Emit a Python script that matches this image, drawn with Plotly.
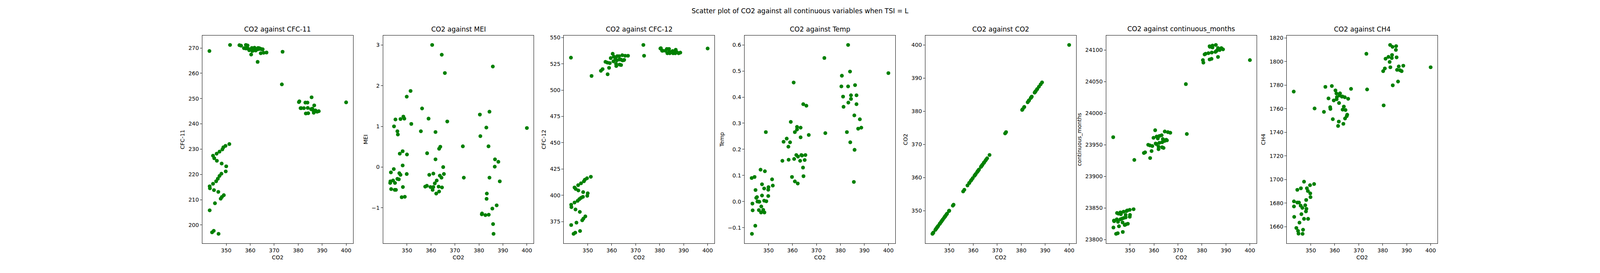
import plotly.graph_objects as go

# CO2 against CFC-11
cfc11_co2 = [343.0, 351.6, 355.5, 356.2, 357.4, 358.2, 358.2, 358.9, 359.2, 359.6,
             360.4, 360.7, 360.9, 361.5, 361.8, 362.0, 362.3, 363.1, 363.2, 363.3,
             363.8, 364.0, 364.4, 364.5, 365.0, 365.2, 365.6, 366.8, 373.5, 373.2,
             380.3, 380.5, 381.0, 381.3, 382.4, 383.0, 383.2, 383.9, 384.0, 384.2,
             385.4, 385.6, 385.9, 386.2, 386.5, 386.7, 387.2, 387.9, 388.6, 400.0,
             351.3, 349.7, 348.8, 348.4, 347.2, 346.0, 344.5, 345.0, 346.1, 348.1,
             350.0, 349.8, 348.0, 347.2, 346.5, 345.8, 344.5, 343.1, 343.2, 344.9,
             346.7, 349.0, 348.2, 347.7, 345.3, 343.1, 344.8, 344.1, 346.8]
cfc11 = [268.8, 271.2, 271.1, 270.9, 269.9, 269.8, 271.2, 271.0, 269.7, 269.1,
         267.4, 270.0, 268.8, 269.1, 270.1, 269.7, 269.0, 264.5, 269.5, 270.0,
         269.9, 269.6, 267.9, 269.6, 269.4, 269.5, 268.1, 268.2, 268.5, 255.6,
         248.6, 248.9, 246.2, 246.2, 246.2, 248.4, 244.1, 248.4, 246.3, 244.2,
         245.8, 250.5, 246.0, 245.4, 244.4, 247.3, 245.3, 244.8, 245.0, 248.5,
         232.0, 231.3, 230.7, 229.9, 229.0, 228.2, 227.4, 226.4, 225.4, 224.3,
         223.2, 221.2, 220.3, 219.4, 218.3, 217.3, 216.3, 215.3, 214.5, 213.8,
         213.1, 211.8, 211.1, 210.4, 208.6, 205.8, 197.7, 197.1, 196.5]

# CO2 against MEI
mei_co2 = [360.5, 364.5, 365.8, 385.8, 351.5, 349.9, 356.3, 384.4, 380.4, 345.2,
           347.3, 348.5, 348.9, 359.0, 366.8, 351.8, 344.6, 383.1, 400.0, 346.0,
           346.2, 355.8, 361.9, 380.6, 373.3, 384.0, 363.9, 363.4, 347.0, 348.2,
           350.0, 358.4, 361.9, 386.7, 388.1, 386.6, 365.1, 348.2, 343.3, 344.5,
           346.8, 347.3, 349.9, 359.3, 361.0, 363.7, 365.4, 364.4, 373.7, 384.4,
           362.4, 388.7, 344.2, 343.1, 343.0, 346.0, 346.6, 345.0, 361.6, 343.4,
           344.9, 345.4, 348.3, 357.6, 358.3, 359.8, 361.0, 360.7, 363.2, 364.6,
           363.4, 362.2, 383.3, 383.2, 347.8, 349.1, 387.4, 385.6, 381.2, 381.3,
           382.7, 384.1, 385.9, 386.1]
mei = [3.00, 2.76, 2.31, 2.47, 1.87, 1.73, 1.44, 1.36, 1.29, 1.17,
       1.18, 1.24, 1.19, 1.19, 1.12, 1.06, 1.00, 0.97, 0.96, 0.88,
       0.80, 0.88, 0.86, 0.76, 0.51, 0.51, 0.50, 0.45, 0.33, 0.39,
       0.31, 0.34, 0.19, 0.19, 0.13, 0.01, 0.00, 0.04, -0.13, -0.05,
       -0.15, -0.19, -0.17, -0.19, -0.16, -0.21, -0.17, -0.26, -0.26, -0.26,
       -0.33, -0.35, -0.33, -0.35, -0.39, -0.29, -0.30, -0.39, -0.40, -0.54,
       -0.56, -0.56, -0.49, -0.48, -0.46, -0.49, -0.49, -0.56, -0.48, -0.50,
       -0.60, -0.65, -0.65, -0.78, -0.74, -0.73, -0.94, -1.02, -1.16, -1.14,
       -1.18, -1.17, -1.40, -1.64]

# CO2 against CFC-12
cfc12_co2 = [343.0, 351.6, 355.5, 356.2, 357.4, 358.2, 358.3, 358.9, 359.2, 359.6,
             360.4, 360.7, 360.9, 361.5, 361.8, 361.9, 362.1, 362.3, 363.1, 363.2,
             363.3, 363.8, 363.9, 364.4, 364.5, 365.0, 365.2, 365.6, 366.8, 373.2,
             373.5,
             380.3, 380.5, 381.0, 381.3, 382.4, 383.0, 383.2, 383.9, 384.0, 384.2,
             385.4, 385.6, 385.9, 386.2, 386.5, 386.7, 387.2, 387.9, 388.6, 400.0,
             351.3, 349.7, 348.8, 348.4, 347.2, 346.0, 344.5, 345.0, 346.1, 348.1,
             350.0, 349.8, 348.0, 347.2, 346.5, 345.8, 344.5, 343.1, 343.2, 344.9,
             346.7, 349.0, 348.2, 347.7, 345.3, 343.1, 344.8, 344.1, 346.8]
cfc12 = [530.9, 513.5, 518.4, 520.0, 526.9, 526.2, 515.1, 521.2, 525.7, 530.5,
         534.6, 527.4, 531.9, 529.9, 525.0, 522.9, 528.3, 532.3, 532.3, 529.1,
         524.3, 529.1, 523.9, 533.2, 528.3, 528.5, 528.8, 532.7, 532.7, 543.0,
         532.7,
         539.6, 539.9, 537.5, 537.5, 537.5, 539.2, 535.1, 539.2, 537.0, 535.1,
         537.2, 535.1, 536.5, 536.1, 535.1, 538.4, 536.1, 535.1, 535.7, 539.6,
         417.6, 416.2, 414.8, 413.3, 411.4, 409.6, 407.4, 406.0, 404.6, 403.0,
         401.9, 399.5, 398.5, 397.5, 396.3, 394.7, 393.1, 391.0, 388.7, 386.5,
         384.2, 379.9, 377.8, 376.2, 374.0, 371.7, 364.4, 363.3, 366.0]

# CO2 against Temp
temp_co2 = [383.2, 373.3, 384.0, 380.6, 400.0, 360.5, 380.4, 383.2, 386.1, 381.1,
            384.4, 386.7, 384.4, 383.3, 381.3, 386.7, 364.5, 365.8, 385.8, 388.1,
            359.3, 361.9, 361.9, 363.4, 388.7, 387.4, 348.9, 361.0, 382.7, 373.7,
            366.8, 363.4, 357.6, 356.3, 359.0, 384.1, 358.3, 385.9, 361.6, 363.7,
            364.0, 365.4, 362.3, 360.7, 358.4, 355.8, 363.2, 365.1, 364.4, 364.6,
            359.8, 361.0, 362.2, 385.6,
            346.7, 348.5, 344.2, 343.0, 351.5, 347.3, 351.8, 350.0, 348.2, 349.9,
            344.6, 347.3, 349.9, 345.2, 344.9, 345.4, 346.0, 346.2, 348.2, 349.1,
            343.3, 347.0, 343.4, 346.0, 347.8, 346.9, 348.3, 344.5, 343.1]
temp = [0.600, 0.550, 0.498, 0.482, 0.492, 0.456, 0.441, 0.441, 0.446, 0.402,
        0.407, 0.407, 0.393, 0.379, 0.363, 0.373, 0.373, 0.367, 0.330, 0.315,
        0.305, 0.286, 0.276, 0.283, 0.283, 0.279, 0.266, 0.266, 0.266, 0.262,
        0.255, 0.246, 0.241, 0.229, 0.227, 0.227, 0.210, 0.198, 0.178, 0.178,
        0.176, 0.178, 0.172, 0.163, 0.160, 0.156, 0.156, 0.159, 0.130, 0.097,
        0.094, 0.077, 0.069, 0.075,
        0.122, 0.116, 0.094, 0.090, 0.085, 0.066, 0.061, 0.055, 0.050, 0.045,
        0.044, 0.023, 0.021, 0.017, 0.014, 0.000, -0.001, -0.001, 0.003, 0.001,
        -0.008, -0.019, -0.034, -0.033, -0.032, -0.042, -0.042, -0.093, -0.124]

# CO2 against continuous_months
months_co2 = [385.8, 383.2, 383.3, 384.4, 384.4, 386.7, 388.1, 388.8, 387.4, 385.6,
              385.9, 386.2, 382.7, 381.1, 381.5, 384.1, 386.7, 380.4, 380.6, 383.2,
              384.0, 400.0, 373.3,
              360.5, 364.5, 365.8, 366.8, 373.7, 343.0, 359.8, 361.1, 362.3, 363.2,
              361.6, 363.7, 365.1, 365.4, 364.4, 363.4, 362.2, 360.7, 361.0, 357.6,
              358.3, 359.3, 361.9, 361.9, 363.4, 364.0, 359.0, 356.3, 355.8, 358.4,
              351.8,
              351.5, 349.9, 348.9, 348.5, 347.3, 346.0, 344.6, 345.2, 346.2, 348.2,
              350.0, 349.9, 348.2, 347.3, 346.6, 346.0, 344.5, 343.3, 343.4, 345.0,
              346.9, 349.1, 348.3, 347.8, 345.4, 343.1, 344.9, 344.2, 347.0]
months = [24108, 24106, 24105, 24107, 24104, 24103, 24103, 24101, 24100, 24097,
          24098, 24099, 24095, 24093, 24094, 24096, 24089, 24084, 24080, 24085,
          24086, 24084, 24046,
          23973, 23971, 23970, 23969, 23967, 23962, 23961, 23963, 23964, 23965,
          23960, 23959, 23958, 23957, 23956, 23954, 23953, 23952, 23951, 23950,
          23949, 23948, 23947, 23943, 23946, 23945, 23940, 23938, 23937, 23929,
          23926,
          23848, 23847, 23846, 23845, 23844, 23843, 23842, 23841, 23840, 23839,
          23839, 23836, 23835, 23834, 23833, 23832, 23832, 23830, 23829, 23828,
          23827, 23825, 23824, 23823, 23821, 23819, 23810, 23809, 23812]

# CO2 against CH4
ch4_co2 = [383.1, 385.6, 384.1, 385.5, 373.2, 383.9, 382.4, 385.8, 383.8, 381.2,
           382.9, 388.6, 386.7, 383.2, 400.0, 380.9, 386.0, 387.2, 387.9, 380.2,
           386.4, 384.2, 380.4, 373.5,
           342.9, 356.1, 358.8, 360.3, 360.7, 362.2, 362.0, 360.9, 360.8, 363.0,
           363.2, 364.2, 366.8, 357.4, 359.6, 365.6, 361.8, 358.1, 358.2, 363.8,
           363.3, 364.5, 365.2, 365.0, 364.3, 355.5, 351.6, 359.2, 361.7, 363.6,
           361.4,
           347.2, 351.4, 349.7, 345.9, 348.4, 348.8, 344.4, 349.8, 349.9, 348.1,
           343.0, 344.4, 345.1, 347.7, 345.8, 343.0, 348.2, 346.5, 348.0, 346.1,
           343.1, 347.2, 348.9, 345.3, 344.0, 346.8, 344.7, 344.9, 346.6]
ch4 = [1814.0, 1813.0, 1812.4, 1809.8, 1806.5, 1805.5, 1803.9, 1803.5, 1802.9, 1802.3,
       1799.6, 1796.4, 1795.8, 1795.1, 1795.1, 1794.1, 1792.9, 1792.6, 1791.8, 1791.8,
       1783.0, 1779.8, 1762.8, 1776.3,
       1774.5, 1778.5, 1779.2, 1775.5, 1772.9, 1773.0, 1771.3, 1769.8, 1768.0, 1770.2,
       1770.4, 1769.7, 1776.8, 1768.7, 1767.0, 1768.4, 1764.8, 1761.3, 1759.8, 1761.8,
       1759.2, 1758.9, 1754.9, 1753.7, 1751.7, 1757.3, 1760.2, 1751.1, 1749.1, 1747.2,
       1745.4,
       1698.2, 1696.2, 1695.2, 1692.6, 1692.6, 1690.3, 1691.3, 1688.3, 1685.1, 1682.7,
       1681.5, 1680.5, 1680.5, 1678.2, 1677.9, 1677.2, 1675.2, 1676.0, 1673.0, 1670.7,
       1668.4, 1666.7, 1666.7, 1663.5, 1659.0, 1657.5, 1656.5, 1654.2, 1654.0]

# tick labels
co2_ticks = [350, 360, 370, 380, 390, 400]
cfc11_ticks = [200, 210, 220, 230, 240, 250, 260, 270]
mei_ticks = [-1, 0, 1, 2, 3]
cfc12_ticks = [375, 400, 425, 450, 475, 500, 525, 550]
temp_ticks = [-0.1, 0.0, 0.1, 0.2, 0.3, 0.4, 0.5, 0.6]
months_ticks = [23800, 23850, 23900, 23950, 24000, 24050, 24100]
ch4_ticks = [1660, 1680, 1700, 1720, 1740, 1760, 1780, 1800, 1820]

panels = [
    ("CFC-11", cfc11_co2, cfc11, cfc11_ticks, "d"),
    ("MEI", mei_co2, mei, mei_ticks, "d"),
    ("CFC-12", cfc12_co2, cfc12, cfc12_ticks, "d"),
    ("Temp", temp_co2, temp, temp_ticks, ".1f"),
    ("CO2", mei_co2, mei_co2, co2_ticks, "d"),
    ("continuous_months", months_co2, months, months_ticks, "d"),
    ("CH4", ch4_co2, ch4, ch4_ticks, "d"),
]


def padded(values):
    # same 5% autoscale margin matplotlib uses
    lo, hi = min(values), max(values)
    span = hi - lo
    return [lo - 0.05 * span, hi + 0.05 * span]


FONT = "DejaVu Sans"
left, right = 0.125, 0.9
n = len(panels)
ax_w = (right - left) / (n + 0.2 * (n - 1))
gap = 0.2 * ax_w

all_co2 = cfc11_co2 + mei_co2 + cfc12_co2 + temp_co2 + months_co2 + ch4_co2
x_range = padded(all_co2)

fig = go.Figure()
annotations = []
axis_style = dict(
    showline=True, mirror=True, linecolor="black", linewidth=1.1,
    ticks="outside", ticklen=5, tickwidth=1.1, tickcolor="black",
    showgrid=False, zeroline=False, automargin=False,
    tickfont=dict(family=FONT, size=14, color="black"),
)

for i, (name, xs, ys, ticks, fmt) in enumerate(panels):
    x0 = left + i * (ax_w + gap)
    x1 = x0 + ax_w
    suffix = "" if i == 0 else str(i + 1)
    fig.add_trace(go.Scatter(
        x=xs, y=ys, mode="markers",
        marker=dict(color="green", size=9.7, line=dict(width=0)),
        xaxis="x" + suffix, yaxis="y" + suffix, showlegend=False,
    ))
    fig.update_layout({
        "xaxis" + suffix: dict(
            domain=[x0, x1], range=x_range, anchor="y" + suffix,
            tickvals=co2_ticks, tickformat="d",
            title=dict(text="CO2", font=dict(family=FONT, size=14, color="black"), standoff=6),
            **axis_style),
        "yaxis" + suffix: dict(
            domain=[0.11, 0.88], range=padded(ys), anchor="x" + suffix,
            tickvals=ticks, tickformat=fmt,
            title=dict(text=name, font=dict(family=FONT, size=14, color="black"), standoff=6),
            **axis_style),
    })
    annotations.append(dict(
        text="CO2 against " + name, x=(x0 + x1) / 2, y=0.88,
        xref="paper", yref="paper", xanchor="center", yanchor="bottom",
        yshift=4, showarrow=False,
        font=dict(family=FONT, size=17, color="black"),
    ))

# width follows the browser window so all seven panels stay on screen
fig.update_layout(
    height=692,
    margin=dict(l=0, r=0, t=0, b=0, autoexpand=False),
    paper_bgcolor="white", plot_bgcolor="white",
    title=dict(text="Scatter plot of CO2 against all continuous variables when TSI = L",
               x=0.5, xanchor="center", y=0.98, yanchor="top",
               font=dict(family=FONT, size=17, color="black")),
    annotations=annotations,
    font=dict(family=FONT, color="black"),
)

fig.write_html("out.html")
